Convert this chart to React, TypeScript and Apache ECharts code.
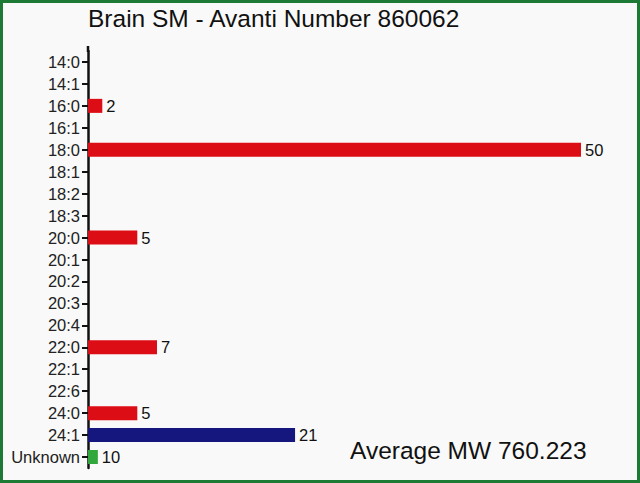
import React, { useEffect, useRef } from 'react';
import * as echarts from 'echarts';

// fatty acid chains, top to bottom
const categories = [
  '14:0', '14:1', '16:0', '16:1', '18:0', '18:1', '18:2', '18:3',
  '20:0', '20:1', '20:2', '20:3', '20:4', '22:0', '22:1', '22:6',
  '24:0', '24:1', 'Unknown',
];
// percent shown next to each bar
const percents = [
  null, null, 2, null, 50, null, null, null,
  5, null, null, null, null, 7, null, null,
  5, 21, 10,
];
// bar length as drawn in the picture (16:0 and Unknown are drawn short)
const barLengths = [
  null, null, 1.45, null, 50, null, null, null,
  5, null, null, null, null, 7, null, null,
  5, 21, 1,
];
// s = saturated, m = mono-unsaturated, u = unknown
const kinds = [
  's', 'm', 's', 'm', 's', 'm', 'm', 'm',
  's', 'm', 'm', 'm', 'm', 's', 'm', 'm',
  's', 'm', 'u',
];
const kindColors: Record<string, string> = { s: '#dc0d14', m: '#15167e', u: '#32a83c' };

const title = 'Brain SM - Avanti Number 860062';
const averageMW = 'Average MW 760.223';

export default function App() {
  const chartRef = useRef<HTMLDivElement>(null);

  useEffect(() => {
    if (!chartRef.current) return;
    const chart = echarts.init(chartRef.current, null, { renderer: 'svg' });
    const font = 'Liberation Sans, Arial, Helvetica, sans-serif';

    chart.setOption({
      animation: false,
      backgroundColor: '#f9f9f9',
      title: {
        text: title,
        left: 83,
        top: 1,
        textStyle: { fontSize: 24.5, fontWeight: 'normal', color: '#111', fontFamily: font },
      },
      grid: { left: 88, right: 59, top: 51, bottom: 15, containLabel: false },
      xAxis: {
        type: 'value',
        min: 0,
        max: 50,
        show: false,
      },
      yAxis: {
        type: 'category',
        data: categories,
        inverse: true,
        axisLine: { show: true, lineStyle: { color: '#111', width: 2.5 } },
        axisTick: { show: true, interval: 0, alignWithLabel: true, length: 6, lineStyle: { color: '#111', width: 2 } },
        axisLabel: { interval: 0, fontSize: 16.5, color: '#222', margin: 8, fontFamily: font },
        splitLine: { show: false },
      },
      series: [
        {
          type: 'bar',
          barWidth: 14,
          data: barLengths.map((v, i) => ({
            value: v === null ? '-' : v,
            itemStyle: { color: kindColors[kinds[i]] },
          })),
          label: {
            show: true,
            position: 'right',
            distance: 4,
            fontSize: 16.5,
            color: '#111',
            fontFamily: font,
            formatter: (p: any) => (percents[p.dataIndex] === null ? '' : String(percents[p.dataIndex])),
          },
        },
      ],
      graphic: [
        {
          type: 'line',
          shape: { x1: 88, y1: 46, x2: 88, y2: 52 },
          style: { stroke: '#111', lineWidth: 2.5 },
          silent: true,
        },
        {
          type: 'rect',
          shape: { x: 1.5, y: 1.5, width: 637, height: 480 },
          style: { fill: 'none', stroke: '#1d7a35', lineWidth: 3 },
          silent: true,
        },
        {
          type: 'text',
          left: 350,
          top: 438,
          style: { text: averageMW, fontSize: 24.5, fill: '#111', fontFamily: font },
        },
      ],
    });

    return () => chart.dispose();
  }, []);

  return (
    <div style={{ position: 'absolute', left: 0, top: 0 }}>
      <div ref={chartRef} style={{ width: 640, height: 483 }} />
    </div>
  );
}
